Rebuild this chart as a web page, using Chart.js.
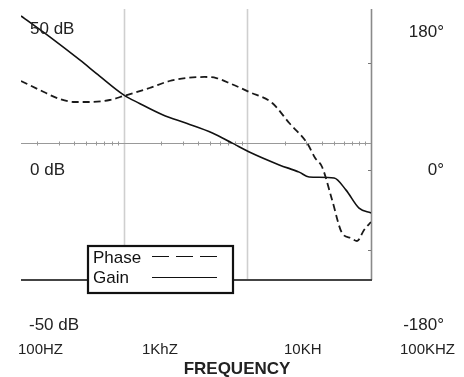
<!DOCTYPE html>
<html>
<head>
<meta charset="utf-8">
<script src="https://cdn.jsdelivr.net/npm/chart.js@4/dist/chart.umd.min.js"></script>
<style>
html,body{margin:0;padding:0;background:#fff;}
canvas{display:block;}
</style>
</head>
<body>
<canvas id="c" width="464" height="377"></canvas>
<script>
// ---- data ----
const gainFreq = [148, 253, 442, 640, 1000, 1346, 2063, 3222, 5220, 7570, 10380, 18120, 26270, 31620, 50290, 62860, 80040, 100000];
const gainDb   = [47.4, 39.6, 31.0, 25.0, 18.0, 14.8, 10.6, 7.4, 3.8, 0.0, -3.3, -8.1, -10.8, -12.6, -13.0, -17.5, -24.2, -26.0];

const phaseFreq = [148, 210, 305, 403, 532, 771, 1000, 1620, 2350, 3222, 4500, 5620, 7430, 10380, 15910, 21820, 30470, 35350, 40250, 48480, 58360, 68990, 77120, 87800, 100000];
const phaseDeg  = [83.4, 71.3, 59.2, 55.2, 55.2, 57.9, 63.3, 74.0, 83.4, 87.4, 88.8, 87.4, 79.4, 68.6, 53.9, 27.0, 0, -19.9, -32.0, -76.3, -120.6, -127.3, -131.3, -116.5, -105.8];

const gainLabels  = ['50 dB', '0 dB', '-50 dB'];
const phaseLabels = ['180°', '0°', '-180°'];
const freqLabels  = ['100HZ', '1KhZ', '10KH', '100KHZ'];
const axisTitle   = 'FREQUENCY';
const legendNames = ['Phase', 'Gain'];
const majorFreqs  = [1000, 10000, 100000];
const sideTickDb  = [30, -10, -40];

const FONT = '"Liberation Sans", Arial, sans-serif';

const decor = {
  id: 'decor',
  beforeDatasetsDraw(chart) {
    const ctx = chart.ctx, a = chart.chartArea;
    const x = chart.scales.x, y = chart.scales.y;
    ctx.save();
    majorFreqs.forEach((f, i) => {
      const px = Math.round(x.getPixelForValue(f)) + 0.5;
      ctx.strokeStyle = i === majorFreqs.length - 1 ? '#8a8a8a' : '#cfcfcf';
      ctx.lineWidth = 1.6;
      ctx.beginPath(); ctx.moveTo(px, a.top); ctx.lineTo(px, a.bottom); ctx.stroke();
    });
    const y0 = Math.round(y.getPixelForValue(0)) + 0.5;
    ctx.strokeStyle = '#999'; ctx.lineWidth = 1;
    ctx.beginPath(); ctx.moveTo(a.left, y0); ctx.lineTo(a.right, y0); ctx.stroke();
    for (let d = 100; d < 100000; d *= 10) {
      for (let m = 2; m <= 9; m++) {
        const f = d * m;
        if (f < x.min || f > x.max) continue;
        const px = Math.round(x.getPixelForValue(f)) + 0.5;
        ctx.beginPath(); ctx.moveTo(px, y0 - 2); ctx.lineTo(px, y0 + 2); ctx.stroke();
      }
    }
    ctx.strokeStyle = '#777';
    sideTickDb.forEach(v => {
      const py = Math.round(y.getPixelForValue(v)) + 0.5;
      ctx.beginPath(); ctx.moveTo(a.right - 3, py); ctx.lineTo(a.right, py); ctx.stroke();
    });
    ctx.strokeStyle = '#444'; ctx.lineWidth = 2;
    ctx.beginPath(); ctx.moveTo(a.left, a.bottom); ctx.lineTo(a.right + 1, a.bottom); ctx.stroke();
    ctx.restore();
  },
  afterDraw(chart) {
    const ctx = chart.ctx;
    ctx.save();
    ctx.fillStyle = '#222';
    ctx.font = '17px ' + FONT;
    ctx.textAlign = 'left'; ctx.textBaseline = 'alphabetic';
    const lb = [34, 175, 330];
    gainLabels.forEach((t, i) => ctx.fillText(t, i === 2 ? 29 : 30, lb[i]));
    ctx.textAlign = 'right';
    const rb = [37, 175, 330];
    phaseLabels.forEach((t, i) => ctx.fillText(t, 444, rb[i]));
    ctx.font = '15px ' + FONT;
    ctx.textAlign = 'left';
    const fx = [18, 142, 284, 400];
    freqLabels.forEach((t, i) => ctx.fillText(t, fx[i], 354));
    ctx.font = 'bold 17px ' + FONT;
    ctx.textAlign = 'center';
    ctx.fillText(axisTitle, 237, 374);
    // legend box
    ctx.fillStyle = '#fff';
    ctx.fillRect(88, 246, 145, 47);
    ctx.strokeStyle = '#111'; ctx.lineWidth = 2.2;
    ctx.strokeRect(88, 246, 145, 47);
    ctx.fillStyle = '#111';
    ctx.font = '17px ' + FONT;
    ctx.textAlign = 'left';
    ctx.fillText(legendNames[0], 93, 263);
    ctx.fillText(legendNames[1], 93, 283);
    ctx.lineWidth = 1.2; ctx.strokeStyle = '#111';
    ctx.setLineDash([17, 7]);
    ctx.beginPath(); ctx.moveTo(152, 256.5); ctx.lineTo(217, 256.5); ctx.stroke();
    ctx.setLineDash([]);
    ctx.beginPath(); ctx.moveTo(152, 277.5); ctx.lineTo(217, 277.5); ctx.stroke();
    ctx.restore();
  }
};

new Chart(document.getElementById('c'), {
  type: 'line',
  data: {
    datasets: [
      {
        label: legendNames[0],
        data: phaseFreq.map((f, i) => ({ x: f, y: phaseDeg[i] })),
        yAxisID: 'y2',
        borderColor: '#1a1a1a', borderWidth: 1.8,
        borderDash: [7, 4],
        pointRadius: 0, fill: false,
        cubicInterpolationMode: 'monotone'
      },
      {
        label: legendNames[1],
        data: gainFreq.map((f, i) => ({ x: f, y: gainDb[i] })),
        yAxisID: 'y',
        borderColor: '#111', borderWidth: 1.6,
        pointRadius: 0, fill: false,
        cubicInterpolationMode: 'monotone'
      }
    ]
  },
  options: {
    responsive: false,
    animation: false,
    devicePixelRatio: 1,
    layout: { padding: { left: 21, top: 9, right: 93, bottom: 97 } },
    plugins: { legend: { display: false }, tooltip: { enabled: false } },
    scales: {
      x: { type: 'logarithmic', min: 148, max: 100000, display: false },
      y: { type: 'linear', min: -51, max: 50, display: false },
      y2: { type: 'linear', min: -183.6, max: 180, display: false }
    }
  },
  plugins: [decor]
});
</script>
</body>
</html>
